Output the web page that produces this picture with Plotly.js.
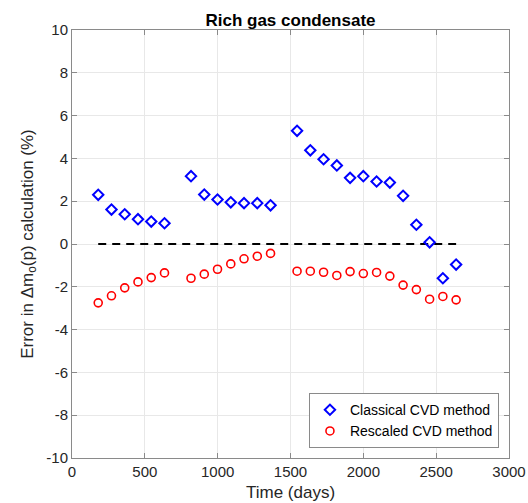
<!DOCTYPE html>
<html>
<head>
<meta charset="utf-8">
<script src="https://cdn.plot.ly/plotly-3.0.1.min.js"></script>
<style>
  html, body { margin: 0; padding: 0; background: #ffffff; }
  #chart { width: 528px; height: 503px; }
</style>
</head>
<body>
<div id="chart"></div>
<script>
// Sampling times (days)
const classicalDays = [180, 271, 362, 453, 544, 635, 817, 908, 999, 1090, 1181, 1272, 1363,
  1545, 1636, 1727, 1818, 1909, 2000, 2091, 2182, 2273, 2364, 2455, 2546, 2637];
const rescaledDays = [180, 271, 362, 453, 544, 635, 817, 908, 999, 1090, 1181, 1272, 1363,
  1545, 1636, 1727, 1818, 1909, 2000, 2091, 2182, 2273, 2364, 2455, 2546, 2637];

// Error in the Delta m_o(p) calculation (%)
const classicalError = [2.30, 1.61, 1.39, 1.16, 1.05, 0.97,
  3.17, 2.31, 2.08, 1.95, 1.91, 1.91, 1.81,
  5.29, 4.38, 3.96, 3.67, 3.09, 3.17, 2.92, 2.87, 2.25, 0.90, 0.08, -1.60, -0.96];
const rescaledError = [-2.75, -2.42, -2.05, -1.77, -1.57, -1.35,
  -1.60, -1.41, -1.18, -0.93, -0.69, -0.57, -0.44,
  -1.27, -1.27, -1.32, -1.47, -1.29, -1.38, -1.33, -1.50, -1.92, -2.13, -2.58, -2.45, -2.61];

// Zero-error reference line
const zeroLineDays = [180, 2637];
const zeroLineValues = [0, 0];

const xTicks = [0, 500, 1000, 1500, 2000, 2500, 3000];
const yTicks = [-10, -8, -6, -4, -2, 0, 2, 4, 6, 8, 10];

const fontFamily = 'Liberation Sans, Arial, Helvetica, sans-serif';

const traces = [
  {
    x: zeroLineDays, y: zeroLineValues,
    mode: 'lines', type: 'scatter',
    line: { color: '#000000', width: 2, dash: '8px,6px' },
    showlegend: false, hoverinfo: 'skip'
  },
  {
    x: classicalDays, y: classicalError,
    mode: 'markers', type: 'scatter',
    name: 'Classical CVD method',
    marker: { symbol: 'diamond-open', size: 8, color: '#0000ff', line: { width: 2, color: '#0000ff' } }
  },
  {
    x: rescaledDays, y: rescaledError,
    mode: 'markers', type: 'scatter',
    name: 'Rescaled CVD method',
    marker: { symbol: 'circle-open', size: 8, color: '#ff0000', line: { width: 1.6, color: '#ff0000' } }
  }
];

const axisCommon = {
  showgrid: true,
  gridcolor: '#e8e8e8',
  gridwidth: 1,
  zeroline: false,
  showline: true,
  linecolor: '#8a8a8a',
  linewidth: 1,
  mirror: 'ticks',
  ticks: 'inside',
  ticklen: 5,
  tickcolor: '#8a8a8a',
  tickfont: { family: fontFamily, size: 15, color: '#262626' }
};

const layout = {
  width: 528,
  height: 503,
  margin: { l: 72, r: 19, t: 30, b: 45 },
  paper_bgcolor: '#ffffff',
  plot_bgcolor: '#ffffff',
  font: { family: fontFamily, color: '#262626' },
  title: {
    text: '<b>Rich gas condensate</b>',
    font: { family: fontFamily, size: 17, color: '#000000' },
    x: 0.5, xref: 'paper', xanchor: 'center',
    y: 1, yref: 'paper', yanchor: 'bottom', pad: { b: 4 }
  },
  xaxis: Object.assign({}, axisCommon, {
    range: [0, 3000],
    tickvals: xTicks,
    ticktext: xTicks.map(String),
    title: { text: 'Time (days)', font: { family: fontFamily, size: 17, color: '#262626' }, standoff: 7 }
  }),
  yaxis: Object.assign({}, axisCommon, {
    range: [-10, 10],
    tickvals: yTicks,
    ticktext: yTicks.map(String),
    title: { text: 'Error in \u0394m<sub>o</sub>(p) calculation (%)', font: { family: fontFamily, size: 17, color: '#262626' }, standoff: 8 }
  }),
  legend: {
    x: 0.977, y: 0.023, xanchor: 'right', yanchor: 'bottom',
    bgcolor: '#ffffff',
    bordercolor: '#8a8a8a',
    borderwidth: 1,
    font: { family: fontFamily, size: 14, color: '#000000' },
    tracegroupgap: 0
  },
  showlegend: true
};

Plotly.newPlot('chart', traces, layout, { displayModeBar: false, staticPlot: true });
</script>
</body>
</html>
